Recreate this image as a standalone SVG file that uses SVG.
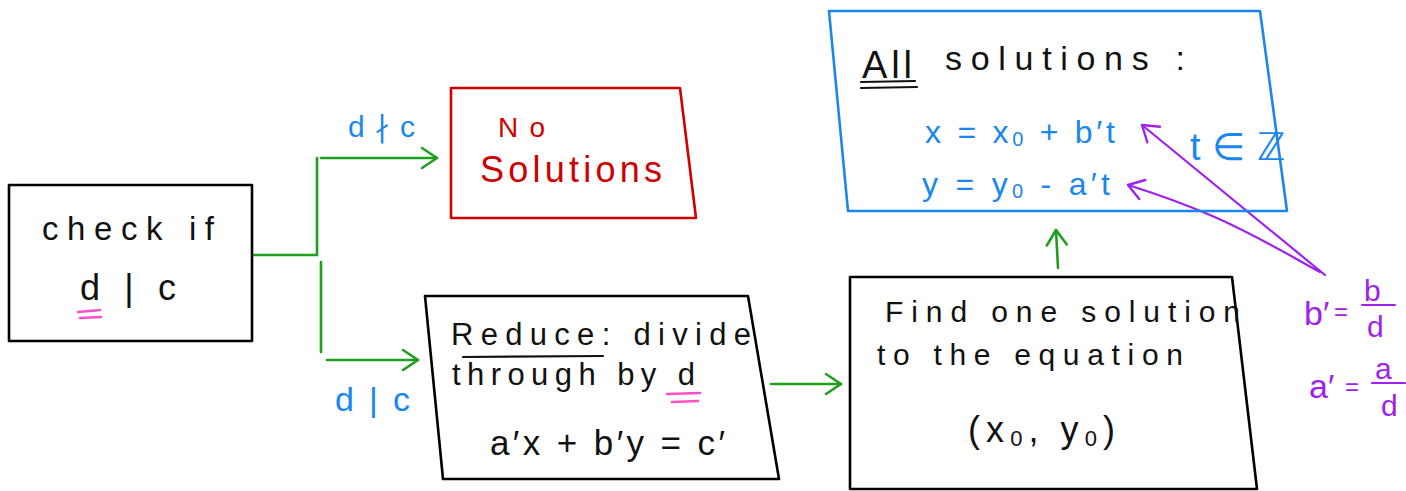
<svg xmlns="http://www.w3.org/2000/svg" width="1406" height="491" viewBox="0 0 1406 491">
<defs>
<style>
.box{fill:none;stroke:#000;stroke-width:2.6;stroke-linejoin:round}
.t{font-family:"Liberation Sans","DejaVu Sans",sans-serif;fill:#111}
.blue{fill:#1a86f0}
.red{fill:#d00000}
.pur{fill:#a020f0}
.g{fill:none;stroke:#1ea01e;stroke-width:2.6;stroke-linecap:round}
.p{fill:none;stroke:#a020f0;stroke-width:2.2;stroke-linecap:round}
.pink{stroke:#ff4fc8;stroke-width:2.6;stroke-linecap:round}
.ul{stroke:#111;stroke-width:2.2;stroke-linecap:round}
</style>
<marker id="ag" viewBox="0 0 20 24" refX="18" refY="12" markerWidth="20" markerHeight="24" markerUnits="userSpaceOnUse" orient="auto"><path d="M3,2 L18,12 L3,22" fill="none" stroke="#1ea01e" stroke-width="2.6" stroke-linecap="round" stroke-linejoin="round"/></marker>
<marker id="ap" viewBox="0 0 20 24" refX="18" refY="12" markerWidth="20" markerHeight="24" markerUnits="userSpaceOnUse" orient="auto"><path d="M3,2 L18,12 L3,22" fill="none" stroke="#a020f0" stroke-width="2.4" stroke-linecap="round" stroke-linejoin="round"/></marker>
</defs>
<rect width="1406" height="491" fill="#fff"/>

<g id="connectors">
<path class="g" d="M254,255 H317 V158 M321,158 H437" marker-end="url(#ag)"/>
<path class="g" d="M321,262 V352 M327,360 H418" marker-end="url(#ag)"/>
<path class="g" d="M771,384 H841" marker-end="url(#ag)"/>
<path class="g" d="M1058,268 L1056,230" marker-end="url(#ag)"/>
<path class="p" d="M1325,275 Q1240,205 1142,125" marker-end="url(#ap)"/>
<path class="p" d="M1320,272 C1280,250 1250,232 1210,215 S1150,192 1128,185" marker-end="url(#ap)"/>
<text class="t blue" x="348" y="137" font-size="30" textLength="67">d∤c</text>
<text class="t blue" x="335" y="411" font-size="34" textLength="75">d|c</text>
</g>

<g id="check">
<polygon class="box" points="9,185 252,185 252,341 9,341"/>
<text class="t" x="42" y="240" font-size="33" textLength="172">check if</text>
<text class="t" x="80" y="300" font-size="36" textLength="96">d | c</text>
<line class="pink" x1="78" y1="312" x2="100" y2="310"/>
<line class="pink" x1="80" y1="318" x2="101" y2="317"/>
</g>

<g id="nosol">
<polygon class="box" style="stroke:#d00000" points="451,88 680,88 696,218 451,218"/>
<text class="t red" x="498" y="137" font-size="28" textLength="47">No</text>
<text class="t red" x="480" y="182" font-size="36" textLength="182">Solutions</text>
</g>

<g id="reduce">
<polygon class="box" points="425,296 748,296 779,479 443,479"/>
<text class="t" x="451" y="345" font-size="31" textLength="300">Reduce: divide</text>
<line class="ul" x1="463" y1="357" x2="603" y2="356"/>
<text class="t" x="452" y="385" font-size="31" textLength="243">through by d</text>
<line class="pink" x1="667" y1="394" x2="700" y2="393"/>
<line class="pink" x1="672" y1="402" x2="698" y2="401"/>
<text class="t" x="490" y="455" font-size="35" textLength="235">a′x + b′y = c′</text>
</g>

<g id="findone">
<polygon class="box" points="850,277 1232,277 1257,489 850,489"/>
<text class="t" x="885" y="322" font-size="30" textLength="355">Find one solution</text>
<text class="t" x="877" y="365" font-size="30" textLength="306">to the equation</text>
<text class="t" x="968" y="442" font-size="36" textLength="147">(x<tspan font-size="22" dy="4">0</tspan><tspan dy="-4">, y</tspan><tspan font-size="22" dy="4">0</tspan><tspan dy="-4">)</tspan></text>
</g>

<g id="allsol">
<polygon class="box" style="stroke:#1a86f0" points="829,11 1260,11 1287,211 848,211"/>
<text class="t" x="862" y="78" font-size="38" textLength="50">All</text>
<line class="ul" x1="861" y1="82" x2="915" y2="81"/>
<line class="ul" x1="861" y1="88" x2="917" y2="87"/>
<text class="t" x="945" y="70" font-size="34" textLength="240">solutions :</text>
<text class="t blue" x="925" y="143" font-size="32" textLength="190">x = x<tspan font-size="20" dy="3">0</tspan><tspan dy="-3"> + b′t</tspan></text>
<text class="t blue" x="922" y="195" font-size="32" textLength="188">y = y<tspan font-size="20" dy="3">0</tspan><tspan dy="-3"> - a′t</tspan></text>
<text class="t blue" x="1190" y="160" font-size="38" textLength="95">t ∈ ℤ</text>
</g>

<g id="defs-note">
<text class="t pur" x="1304" y="325" font-size="34">b′</text>
<text class="t pur" x="1334" y="320" font-size="24">=</text>
<text class="t pur" x="1364" y="301" font-size="30">b</text>
<line class="p" x1="1362" y1="305" x2="1395" y2="305"/>
<text class="t pur" x="1367" y="337" font-size="30">d</text>
<text class="t pur" x="1309" y="398" font-size="34">a′</text>
<text class="t pur" x="1345" y="395" font-size="24">=</text>
<text class="t pur" x="1375" y="379" font-size="30">a</text>
<line class="p" x1="1372" y1="383" x2="1405" y2="383"/>
<text class="t pur" x="1381" y="416" font-size="30">d</text>
</g>
</svg>
